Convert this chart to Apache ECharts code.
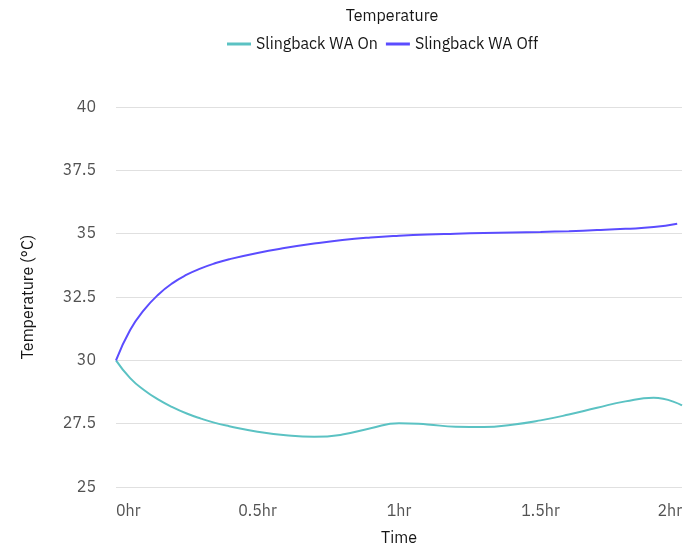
<!DOCTYPE html>
<html>
<head>
<meta charset="utf-8">
<script src="https://cdn.jsdelivr.net/npm/echarts@6/dist/echarts.min.js"></script>
<style>
html,body{margin:0;padding:0;background:#fff;}
#chart{width:694px;height:551px;}
</style>
</head>
<body>
<div id="chart"></div>
<script>
var titleText = 'Temperature';
var seriesNames = ['Slingback WA On', 'Slingback WA Off'];
var xTickLabels = ['0hr', '0.5hr', '1hr', '1.5hr', '2hr'];
// [hours, °C]
var waOn = [
  [0, 30], [0.05, 29.3], [0.1, 28.82], [0.15, 28.45], [0.2, 28.15], [0.25, 27.9],
  [0.3, 27.7], [0.35, 27.53], [0.4, 27.4], [0.5, 27.18], [0.6, 27.04], [0.7, 26.98],
  [0.8, 27.07], [0.9, 27.32], [1.0, 27.52], [1.1, 27.47], [1.2, 27.38], [1.3, 27.37],
  [1.4, 27.46], [1.5, 27.63], [1.6, 27.86], [1.7, 28.13], [1.8, 28.38], [1.9, 28.52],
  [2.0, 28.22]
];
var waOff = [
  [0, 30], [0.05, 31.2], [0.1, 32.0], [0.15, 32.6], [0.2, 33.05], [0.25, 33.38],
  [0.3, 33.63], [0.35, 33.83], [0.4, 33.99], [0.5, 34.24], [0.6, 34.44], [0.7, 34.61],
  [0.8, 34.75], [0.9, 34.85], [1.0, 34.92], [1.1, 34.97], [1.2, 35.0], [1.3, 35.03],
  [1.4, 35.05], [1.5, 35.07], [1.6, 35.1], [1.7, 35.14], [1.8, 35.19], [1.9, 35.26],
  [1.983, 35.39]
];
var colors = ['#5bc2c3', '#5b4cff'];
var font = '"IBM Plex Sans", "Noto Sans", sans-serif';

var chart = echarts.init(document.getElementById('chart'), null, {renderer: 'canvas'});
chart.setOption({
  animation: false,
  color: colors,
  textStyle: {fontFamily: font},
  title: {
    text: titleText,
    left: 387, top: 3,
    textAlign: 'center',
    textStyle: {fontSize: 16, fontWeight: 'normal', color: '#161616', fontFamily: font}
  },
  legend: {
    top: 31,
    left: 222,
    itemWidth: 24,
    itemHeight: 3,
    itemGap: 8,
    icon: 'rect',
    textStyle: {fontSize: 16, color: '#161616', fontFamily: font},
    data: seriesNames
  },
  grid: {left: 116, right: 12, top: 107, bottom: 62, containLabel: false},
  xAxis: {
    type: 'value',
    min: 0, max: 2, interval: 0.5,
    name: 'Time',
    nameLocation: 'middle',
    nameGap: 43,
    nameTextStyle: {fontSize: 16, color: '#161616', fontFamily: font},
    axisLine: {show: false},
    axisTick: {show: false},
    splitLine: {show: false},
    axisLabel: {
      fontSize: 16, color: '#525252', margin: 16, fontFamily: font,
      alignMinLabel: 'left', alignMaxLabel: 'right',
      formatter: function (v) { return xTickLabels[Math.round(v / 0.5)]; }
    }
  },
  yAxis: {
    type: 'value',
    min: 25, max: 40, interval: 2.5,
    name: 'Temperature (°C)',
    nameLocation: 'middle',
    nameGap: 80,
    nameTextStyle: {fontSize: 16, color: '#161616', fontFamily: font},
    axisLine: {show: false},
    axisTick: {show: false},
    splitLine: {lineStyle: {color: '#e0e0e0', width: 1}},
    axisLabel: {fontSize: 16, color: '#525252', margin: 20, fontFamily: font}
  },
  series: [
    {name: seriesNames[0], type: 'line', data: waOn, smooth: true, showSymbol: false,
     lineStyle: {width: 2, color: colors[0]}},
    {name: seriesNames[1], type: 'line', data: waOff, smooth: true, showSymbol: false,
     lineStyle: {width: 2, color: colors[1]}}
  ]
});
</script>
</body>
</html>
